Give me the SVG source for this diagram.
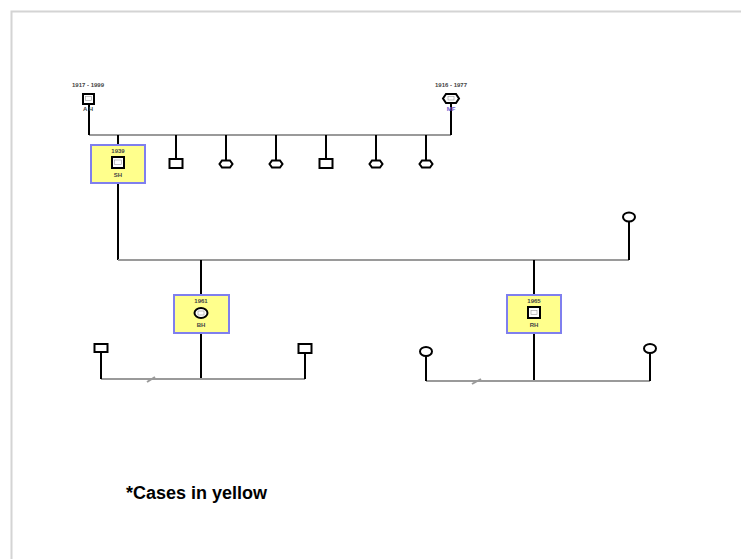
<svg xmlns="http://www.w3.org/2000/svg" width="741" height="559" viewBox="0 0 741 559">
<style>
.frame{fill:none;stroke:#d4d4d4;stroke-width:2}
.rel{stroke:#9a9a9a;stroke-width:2;fill:none}
.desc{stroke:#000;stroke-width:2;fill:none}
.sym{fill:#fff;stroke:#000;stroke-width:2}
.case{fill:#ffff8c;stroke:#7f7fee;stroke-width:2}
.lbl{fill:#fff;stroke:#999;stroke-width:0.6}
.t{font-family:"Liberation Sans",Arial,sans-serif;font-size:6px;font-weight:bold;text-anchor:middle;fill:#444}
.note{font-family:"Liberation Sans",Arial,sans-serif;font-size:18px;font-weight:bold;fill:#000}
</style>
<rect width="741" height="559" fill="#fff"/>
<rect class="frame" x="11.5" y="11.5" width="760" height="580"/>
<g id="connectors">
  <line class="rel" x1="89" y1="135" x2="451" y2="135"/>
  <line class="desc" x1="89" y1="104" x2="89" y2="135"/>
  <line class="desc" x1="451" y1="103" x2="451" y2="135"/>
  <line class="desc" x1="118" y1="135" x2="118" y2="145"/>
  <line class="desc" x1="176" y1="135" x2="176" y2="159"/>
  <line class="desc" x1="226" y1="135" x2="226" y2="160"/>
  <line class="desc" x1="276" y1="135" x2="276" y2="160"/>
  <line class="desc" x1="326" y1="135" x2="326" y2="159"/>
  <line class="desc" x1="376" y1="135" x2="376" y2="160"/>
  <line class="desc" x1="426" y1="135" x2="426" y2="160"/>
  <line class="desc" x1="118" y1="183" x2="118" y2="260"/>
  <line class="rel" x1="118" y1="260" x2="629" y2="260"/>
  <line class="desc" x1="629" y1="221" x2="629" y2="260"/>
  <line class="desc" x1="201" y1="260" x2="201" y2="295"/>
  <line class="desc" x1="534" y1="260" x2="534" y2="295"/>
  <line class="desc" x1="201" y1="333" x2="201" y2="379"/>
  <line class="rel" x1="101" y1="379" x2="305" y2="379"/>
  <line class="desc" x1="101" y1="352" x2="101" y2="379"/>
  <line class="desc" x1="305" y1="353" x2="305" y2="379"/>
  <line class="rel" x1="147" y1="382" x2="155" y2="377" stroke-width="1.2"/>
  <line class="desc" x1="534" y1="333" x2="534" y2="381"/>
  <line class="rel" x1="426" y1="381" x2="650" y2="381"/>
  <line class="desc" x1="426" y1="356" x2="426" y2="381"/>
  <line class="desc" x1="650" y1="353" x2="650" y2="381"/>
  <line class="rel" x1="472" y1="384" x2="481" y2="379" stroke-width="1.2"/>
</g>
<g id="AH">
  <text class="t" x="88" y="87">1917 - 1999</text>
  <rect class="sym" x="83" y="94" width="11" height="10"/>
  <rect class="lbl" x="85.5" y="96.5" width="6" height="4"/>
  <text class="t" x="88" y="111">A H</text>
</g>
<g id="MF">
  <text class="t" x="451" y="87">1916 - 1977</text>
  <path class="sym" d="M446,94 L456,94 L459,98.5 L456,103 L446,103 L443,98.5 Z"/>
  <rect class="lbl" x="448" y="96.5" width="6" height="3.5"/>
  <text class="t" x="451" y="111" style="fill:#6a5acd">MF</text>
</g>
<g id="SH">
  <rect class="case" x="91" y="145" width="54" height="38"/>
  <text class="t" x="118" y="153">1939</text>
  <rect class="sym" x="112" y="157" width="12" height="11"/>
  <rect class="lbl" x="114.5" y="160" width="7" height="4.5"/>
  <text class="t" x="118" y="177">SH</text>
</g>
<g id="sib1"><rect class="sym" x="169.5" y="159" width="13" height="9"/></g>
<g id="sib2"><path class="sym" d="M222,160.5 L230,160.5 L232.5,164 L230,167.5 L222,167.5 L219.5,164 Z"/></g>
<g id="sib3"><path class="sym" d="M272,160.5 L280,160.5 L282.5,164 L280,167.5 L272,167.5 L269.5,164 Z"/></g>
<g id="sib4"><rect class="sym" x="319.5" y="159" width="13" height="9"/></g>
<g id="sib5"><path class="sym" d="M372,160.5 L380,160.5 L382.5,164 L380,167.5 L372,167.5 L369.5,164 Z"/></g>
<g id="sib6"><path class="sym" d="M422,160.5 L430,160.5 L432.5,164 L430,167.5 L422,167.5 L419.5,164 Z"/></g>
<g id="spouseSH"><ellipse class="sym" cx="629" cy="217" rx="6" ry="4.5"/></g>
<g id="BH">
  <rect class="case" x="174" y="295" width="55" height="38"/>
  <text class="t" x="201" y="303">1961</text>
  <ellipse class="sym" cx="201" cy="313" rx="6.5" ry="5"/>
  <rect class="lbl" x="198" y="311" width="6" height="4"/>
  <text class="t" x="201" y="327">BH</text>
</g>
<g id="RH">
  <rect class="case" x="507" y="295" width="54" height="38"/>
  <text class="t" x="534" y="303">1965</text>
  <rect class="sym" x="528" y="307" width="12" height="11"/>
  <rect class="lbl" x="531" y="310.5" width="6" height="4"/>
  <text class="t" x="534" y="327">RH</text>
</g>
<g id="BHsp1"><rect class="sym" x="94.5" y="344" width="13" height="8"/></g>
<g id="BHsp2"><rect class="sym" x="298.5" y="344" width="13" height="9"/></g>
<g id="RHsp1"><ellipse class="sym" cx="426" cy="351.5" rx="6" ry="4.5"/></g>
<g id="RHsp2"><ellipse class="sym" cx="650" cy="348.5" rx="6" ry="4.5"/></g>
<text class="note" x="126" y="499">*Cases in yellow</text>
</svg>
